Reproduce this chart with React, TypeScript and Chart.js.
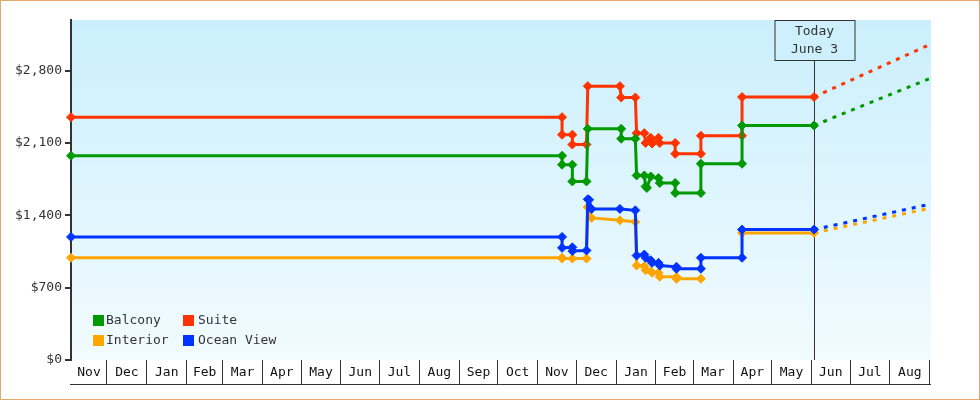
import React, { useEffect, useRef } from "react";
import { Chart, registerables } from "chart.js";

Chart.register(...registerables);

const FONT = "'DejaVu Sans Mono', monospace";
const TEXT = "#333333";

// ---- data ----
const seriesNames = ["Balcony", "Suite", "Interior", "Ocean View"];
const seriesColors = ["#009900", "#ff3300", "#ffa500", "#0033ff"];

const balconyDates = [
  "2022-11-03", "2023-11-20", "2023-11-20", "2023-11-28", "2023-11-28", "2023-12-09",
  "2023-12-10", "2024-01-05", "2024-01-05", "2024-01-16", "2024-01-17", "2024-01-23",
  "2024-01-24", "2024-01-25", "2024-01-28", "2024-02-03", "2024-02-04", "2024-02-16",
  "2024-02-16", "2024-03-07", "2024-03-07", "2024-04-08", "2024-04-08", "2024-06-03",
];
const balconyValues = [
  1976, 1976, 1890, 1890, 1728, 1728,
  2237, 2237, 2141, 2141, 1786, 1786,
  1680, 1665, 1776, 1760, 1713, 1713,
  1616, 1616, 1899, 1899, 2269, 2269,
];

const suiteDates = [
  "2022-11-03", "2023-11-20", "2023-11-20", "2023-11-28", "2023-11-28", "2023-12-09",
  "2023-12-10", "2024-01-04", "2024-01-05", "2024-01-16", "2024-01-17", "2024-01-23",
  "2024-01-24", "2024-01-28", "2024-01-29", "2024-02-03", "2024-02-04", "2024-02-16",
  "2024-02-16", "2024-03-07", "2024-03-07", "2024-04-08", "2024-04-08", "2024-06-03",
];
const suiteValues = [
  2350, 2350, 2180, 2180, 2085, 2085,
  2650, 2650, 2540, 2540, 2195, 2195,
  2100, 2150, 2095, 2150, 2100, 2100,
  1995, 1995, 2170, 2170, 2545, 2545,
];

const interiorDates = [
  "2022-11-03", "2023-11-20", "2023-11-20", "2023-11-28", "2023-12-09", "2023-12-10",
  "2023-12-13", "2024-01-04", "2024-01-16", "2024-01-17", "2024-01-23", "2024-01-24",
  "2024-01-28", "2024-01-29", "2024-02-03", "2024-02-04", "2024-02-17", "2024-02-17",
  "2024-03-07", "2024-03-20", "2024-04-08", "2024-06-03",
];
const interiorValues = [
  989, 989, 982, 982, 982, 1480,
  1375, 1352, 1336, 914, 907, 869,
  859, 844, 844, 805, 805, 786,
  786, null, 1230, 1230,
];

const oceanDates = [
  "2022-11-03", "2023-11-20", "2023-11-20", "2023-11-28", "2023-11-28", "2023-12-09",
  "2023-12-10", "2023-12-11", "2023-12-13", "2024-01-04", "2024-01-16", "2024-01-17",
  "2024-01-23", "2024-01-24", "2024-01-28", "2024-01-29", "2024-02-03", "2024-02-04",
  "2024-02-17", "2024-02-17", "2024-03-07", "2024-03-07", "2024-04-08", "2024-04-08",
  "2024-06-03",
];
const oceanValues = [
  1191, 1191, 1085, 1090, 1055, 1060,
  1555, 1550, 1462, 1462, 1448, 1011,
  1020, 989, 965, 940, 940, 914,
  902, 883, 883, 989, 989, 1262,
  1262,
];

// dashed forecasts: Balcony, Suite, Interior, Ocean View
const todayDate = "2024-06-03";
const todayLines = ["Today", "June 3"];
const forecastEndDate = "2024-09-02";
const forecastStartValues = [2269, 2545, 1230, 1262];
const forecastEndValues = [2729, 3058, 1470, 1510];

const xMinDate = "2022-11-03";
const xMaxDate = "2024-09-02";
const yTicks = [0, 700, 1400, 2100, 2800];
const yMax = 3290;
const monthLabels = ["Jan", "Feb", "Mar", "Apr", "May", "Jun", "Jul", "Aug", "Sep", "Oct", "Nov", "Dec"];

// ---- helpers ----
const dayNum = (s: string) => {
  const [y, m, d] = s.split("-").map(Number);
  return Date.UTC(y, m - 1, d) / 864e5;
};
const toPoints = (dates: string[], values: (number | null)[]) =>
  dates.map((d, i) => ({ x: dayNum(d), y: values[i] }));

function buildMonthTicks() {
  const min = dayNum(xMinDate);
  const max = dayNum(xMaxDate);
  const start = new Date(min * 864e5);
  let y = start.getUTCFullYear();
  let m = start.getUTCMonth();
  const res: any[] = [];
  while (true) {
    const s = Date.UTC(y, m, 1) / 864e5;
    const e = Date.UTC(y, m + 1, 1) / 864e5;
    if (s > max) break;
    if (s >= min) res.push({ value: s, boundary: true, name: "" });
    const vs = Math.max(s, min);
    const ve = Math.min(e, max);
    if (ve - vs >= 10) res.push({ value: (vs + ve) / 2, boundary: false, name: monthLabels[m] });
    m++;
    if (m > 11) { m = 0; y++; }
  }
  return res.sort((a, b) => a.value - b.value);
}

const decorPlugin = {
  id: "decor",
  beforeDraw(chart: any) {
    const { ctx, chartArea: a } = chart;
    ctx.save();
    const g = ctx.createLinearGradient(0, a.top, 0, a.bottom);
    g.addColorStop(0, "#caeffc");
    g.addColorStop(1, "#f2fbff");
    ctx.fillStyle = g;
    ctx.fillRect(a.left, a.top, a.right - a.left, a.bottom - a.top);
    ctx.restore();
  },
  beforeDatasetsDraw(chart: any) {
    const { ctx, chartArea: a, scales } = chart;
    const x = Math.round(scales.x.getPixelForValue(dayNum(todayDate))) + 0.5;
    const boxW = 80;
    const boxH = 40;
    const bx = Math.round(x - boxW / 2);
    const by = a.top + 0.5;
    ctx.save();
    ctx.strokeStyle = TEXT;
    ctx.lineWidth = 1;
    ctx.beginPath();
    ctx.moveTo(x, by + boxH);
    ctx.lineTo(x, a.bottom);
    ctx.stroke();
    ctx.fillStyle = "#cdf0fc";
    ctx.fillRect(bx, by, boxW, boxH);
    ctx.strokeRect(bx, by, boxW, boxH);
    ctx.fillStyle = TEXT;
    ctx.font = `13px ${FONT}`;
    ctx.textAlign = "center";
    ctx.textBaseline = "middle";
    ctx.fillText(todayLines[0], x, a.top + 12);
    ctx.fillText(todayLines[1], x, a.top + 30);
    ctx.restore();
  },
  afterDraw(chart: any) {
    const { ctx, chartArea: a } = chart;
    ctx.save();
    // bottom line of month cells
    ctx.strokeStyle = TEXT;
    ctx.lineWidth = 1;
    ctx.beginPath();
    ctx.moveTo(a.left - 1, a.bottom + 24.5);
    ctx.lineTo(a.right, a.bottom + 24.5);
    ctx.stroke();
    // legend (2 x 2)
    const order = [0, 1, 2, 3];
    ctx.font = `13px ${FONT}`;
    ctx.textAlign = "left";
    ctx.textBaseline = "middle";
    order.forEach((idx, k) => {
      const col = k % 2;
      const row = Math.floor(k / 2);
      const lx = a.left + 22 + col * 90;
      const ly = a.bottom - 45 + row * 20;
      ctx.fillStyle = seriesColors[idx];
      ctx.fillRect(lx, ly, 11, 11);
      ctx.fillStyle = TEXT;
      ctx.fillText(seriesNames[idx], lx + 13 + (col ? 2 : 0), ly + 6);
    });
    ctx.restore();
  },
};

const lineDs = (idx: number, data: any[]) => ({
  label: seriesNames[idx],
  data,
  borderColor: seriesColors[idx],
  backgroundColor: seriesColors[idx],
  pointBackgroundColor: seriesColors[idx],
  pointBorderColor: seriesColors[idx],
  pointStyle: "rectRot",
  pointRadius: 4.5,
  pointBorderWidth: 1,
  borderWidth: 3,
  tension: 0,
  spanGaps: false,
  clip: false,
});

const forecastDs = (idx: number) => ({
  label: seriesNames[idx] + " forecast",
  data: [
    { x: dayNum(todayDate), y: forecastStartValues[idx] },
    { x: dayNum(forecastEndDate), y: forecastEndValues[idx] },
  ],
  borderColor: seriesColors[idx],
  borderWidth: 3,
  borderDash: [4, 6],
  pointRadius: 0,
  tension: 0,
  clip: false,
});

export default function App() {
  const canvasRef = useRef<HTMLCanvasElement | null>(null);

  useEffect(() => {
    document.body.style.margin = "0";
    const canvas = canvasRef.current;
    if (!canvas) return;
    Chart.defaults.font.family = FONT;
    Chart.defaults.font.size = 13;
    Chart.defaults.color = TEXT;

    const monthTicks = buildMonthTicks();

    const chart = new Chart(canvas, {
      type: "line",
      data: {
        datasets: [
          lineDs(3, toPoints(oceanDates, oceanValues)),
          lineDs(2, toPoints(interiorDates, interiorValues)),
          lineDs(0, toPoints(balconyDates, balconyValues)),
          lineDs(1, toPoints(suiteDates, suiteValues)),
          forecastDs(3),
          forecastDs(2),
          forecastDs(0),
          forecastDs(1),
        ] as any,
      },
      options: {
        animation: false,
        responsive: false,
        events: [],
        layout: { padding: { top: 20, right: 49, left: 0, bottom: 0 } },
        plugins: {
          legend: { display: false },
          tooltip: { enabled: false },
        },
        scales: {
          x: {
            type: "linear",
            min: dayNum(xMinDate),
            max: dayNum(xMaxDate),
            afterBuildTicks: (scale: any) => {
              scale.ticks = monthTicks.map((t) => ({ ...t }));
            },
            afterFit: (scale: any) => {
              scale.height = 40;
            },
            border: { display: false },
            grid: {
              drawOnChartArea: false,
              drawTicks: true,
              tickLength: 25,
              lineWidth: 1,
              color: (c: any) => (c.tick && c.tick.boundary ? TEXT : "rgba(0,0,0,0)"),
            },
            ticks: {
              autoSkip: false,
              maxRotation: 0,
              minRotation: 0,
              padding: -20,
              color: "#111",
              font: { family: FONT, size: 13 },
              callback: (_v: any, i: number, ticks: any[]) => ticks[i].name || "",
            },
          },
          y: {
            type: "linear",
            min: 0,
            max: yMax,
            afterBuildTicks: (scale: any) => {
              scale.ticks = yTicks.map((v) => ({ value: v }));
            },
            afterFit: (scale: any) => {
              scale.width = 71;
            },
            border: { display: true, color: TEXT, width: 2 },
            grid: {
              drawOnChartArea: false,
              drawTicks: true,
              tickLength: 6,
              lineWidth: 2,
              color: TEXT,
            },
            ticks: {
              padding: 3,
              color: TEXT,
              font: { family: FONT, size: 13 },
              callback: (v: any) => "$" + Number(v).toLocaleString("en-US"),
            },
          },
        },
      } as any,
      plugins: [decorPlugin],
    });
    return () => chart.destroy();
  }, []);

  return (
    <div style={{ position: "relative", width: 980, height: 400, background: "#fff" }}>
      <canvas ref={canvasRef} width={980} height={400} style={{ position: "absolute", left: 0, top: 0 }} />
      <div
        style={{
          position: "absolute",
          left: 0,
          top: 0,
          width: 980,
          height: 400,
          boxSizing: "border-box",
          border: "1px solid #e3a86c",
          pointerEvents: "none",
        }}
      />
    </div>
  );
}
